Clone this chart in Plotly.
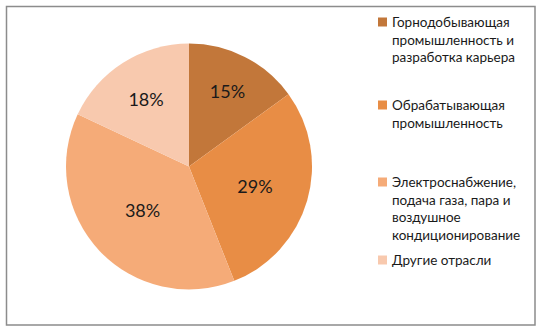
import plotly.graph_objects as go

categories = [
    "Горнодобывающая промышленность и разработка карьера",
    "Обрабатывающая промышленность",
    "Электроснабжение, подача газа, пара и воздушное кондиционирование",
    "Другие отрасли",
]
legend_lines = [
    ["Горнодобывающая", "промышленность и", "разработка карьера"],
    ["Обрабатывающая", "промышленность"],
    ["Электроснабжение,", "подача газа, пара и", "воздушное", "кондиционирование"],
    ["Другие отрасли"],
]
values = [15, 29, 38, 18]
colors = ["#C2773A", "#E88D45", "#F5AB78", "#F8C9AE"]

W, H = 542, 334
cx, cy, r = 189, 166.5, 123

fig = go.Figure()
fig.add_trace(go.Pie(
    labels=categories,
    values=values,
    sort=False,
    direction="clockwise",
    rotation=0,
    marker=dict(colors=colors, line=dict(width=0)),
    textinfo="percent",
    texttemplate="%{percent:.0%}",
    textposition="inside",
    insidetextorientation="horizontal",
    textfont=dict(family="Lato, Carlito, sans-serif", size=18, color="#1a1a1a"),
    domain=dict(x=[(cx - r) / W, (cx + r) / W], y=[1 - (cy + r) / H, 1 - (cy - r) / H]),
    showlegend=False,
    hoverinfo="label+percent",
))

shapes = [dict(type="rect", xref="paper", yref="paper",
               x0=6.5 / W, x1=535 / W, y0=1 - 325 / H, y1=1 - 6.5 / H,
               line=dict(color="#8C8C8C", width=1.5), fillcolor="rgba(0,0,0,0)")]
annotations = []
first_line_y = [22, 105, 182, 260]
for lines, col, yc in zip(legend_lines, colors, first_line_y):
    shapes.append(dict(type="rect", xref="paper", yref="paper",
                       x0=378 / W, x1=387 / W, y0=1 - (yc + 4.5) / H, y1=1 - (yc - 4.5) / H,
                       line=dict(width=0), fillcolor=col))
    annotations.append(dict(
        xref="paper", yref="paper", x=390 / W, y=1 - (yc - 10) / H,
        xanchor="left", yanchor="top", align="left", showarrow=False,
        text="<br>".join(lines),
        font=dict(family="Lato, Carlito, sans-serif", size=13.5, color="#1a1a1a"),
    ))

fig.update_layout(
    width=W, height=H,
    margin=dict(l=0, r=0, t=0, b=0),
    paper_bgcolor="white", plot_bgcolor="white",
    shapes=shapes, annotations=annotations,
)
fig.write_html("out.html")
